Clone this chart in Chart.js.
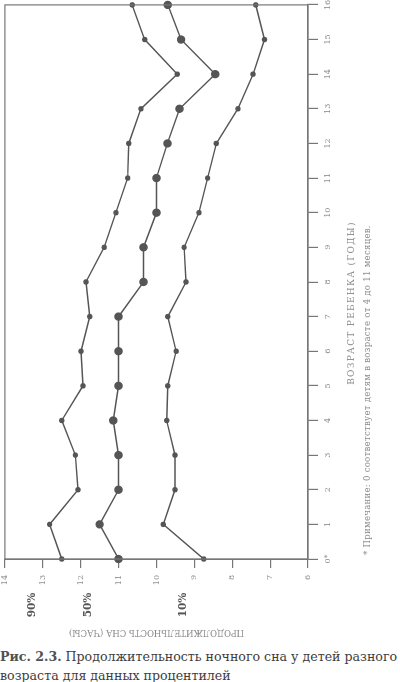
<!DOCTYPE html>
<html>
<head>
<meta charset="utf-8">
<script src="https://cdn.jsdelivr.net/npm/chart.js@4.4.1/dist/chart.umd.min.js"></script>
<style>
    body { margin: 0; background: #fff; }
    #page { position: relative; width: 400px; height: 682px; overflow: hidden; }
    #wrap {
        position: absolute; left: 0; top: 0; width: 645px; height: 400px;
        transform-origin: 0 0; transform: translateY(645px) rotate(-90deg);
    }
    #caption {
        position: absolute; left: 0; top: 647px; width: 420px;
        font-family: "DejaVu Serif", serif; font-size: 12.6px; line-height: 19px;
        color: #3d3d3d; white-space: nowrap;
    }
    #caption b { color: #505050; }
</style>
</head>
<body>
<div id="page">
    <div id="wrap"><canvas id="myChart" width="645" height="400"></canvas></div>
    <div id="caption"><b>Рис. 2.3.</b> Продолжительность ночного сна у детей разного<br>возраста для данных процентилей</div>
</div>
<script>
var ages = ['0*', '1', '2', '3', '4', '5', '6', '7', '8', '9', '10', '11', '12', '13', '14', '15', '16'];
var p90 = [12.5, 12.82, 12.07, 12.14, 12.5, 11.94, 11.99, 11.76, 11.86, 11.38, 11.07, 10.76, 10.73, 10.41, 9.45, 10.31, 10.64];
var p50 = [11.0, 11.5, 11.0, 11.0, 11.14, 11.0, 11.0, 11.0, 10.34, 10.34, 10.0, 10.0, 9.71, 9.39, 8.45, 9.35, 9.7];
var p10 = [8.75, 9.82, 9.51, 9.51, 9.73, 9.7, 9.48, 9.7, 9.22, 9.27, 8.88, 8.65, 8.42, 7.85, 7.45, 7.15, 7.38];
var pctNames = ['90%', '50%', '10%'];
var pctAt = [13.27, 11.79, 9.28];
var xTitle = 'ВОЗРАСТ РЕБЕНКА (ГОДЫ)';
var yTitle = 'ПРОДОЛЖИТЕЛЬНОСТЬ СНА (ЧАСЫ)';
var note = '* Примечание: 0 соответствует детям в возрасте от 4 до 11 месяцев.';

var lineColor = '#555';
var axisColor = '#777';
var textColor = '#8a8a8a';
var serif = '"DejaVu Serif", serif';

function series(values, r) {
    return {
        data: values,
        borderColor: lineColor,
        backgroundColor: lineColor,
        borderWidth: 1.4,
        pointRadius: r,
        pointHoverRadius: r,
        tension: 0,
        clip: false
    };
}

// рамка и подписи
const extras = {
    id: 'extras',
    afterDraw(chart) {
        const ctx = chart.ctx;
        const a = chart.chartArea;
        const y = chart.scales.y;
        ctx.save();
        ctx.strokeStyle = axisColor;
        ctx.lineWidth = 1.2;
        ctx.strokeRect(a.left, a.top, a.right - a.left, a.bottom - a.top);

        ctx.fillStyle = '#555';
        ctx.font = 'bold 10.5px ' + serif;
        ctx.textAlign = 'center';
        ctx.textBaseline = 'middle';
        for (var i = 0; i < pctNames.length; i++) {
            ctx.fillText(pctNames[i], 40, y.getPixelForValue(pctAt[i]));
        }

        ctx.fillStyle = textColor;
        ctx.font = '9px ' + serif;
        ctx.letterSpacing = '1.3px';
        ctx.fillText(xTitle, 342, a.bottom + 44);
        ctx.textAlign = 'left';
        ctx.font = '8.5px ' + serif;
        ctx.letterSpacing = '0.3px';
        ctx.fillText(note, a.left + 4, a.bottom + 60);
        ctx.restore();
    }
};

const config = {
    type: 'line',
    data: {
        labels: ages,
        datasets: [series(p90, 2), series(p50, 3.5), series(p10, 2)]
    },
    options: {
        responsive: false,
        animation: false,
        events: [],
        layout: { padding: { top: 3, right: 3, left: 0, bottom: 0 } },
        plugins: { legend: { display: false }, tooltip: { enabled: false } },
        scales: {
            x: {
                type: 'category',
                afterFit(scale) { scale.height = 92; scale.paddingLeft = 0; scale.paddingRight = 0; },
                border: { color: axisColor, width: 1.2 },
                grid: { drawOnChartArea: false, tickLength: 10, color: axisColor, lineWidth: 1.2 },
                ticks: { color: textColor, font: { family: serif, size: 8 }, padding: 5, maxRotation: 0, autoSkip: false }
            },
            y: {
                min: 6,
                max: 14,
                afterFit(scale) { scale.width = 86; scale.paddingTop = 0; scale.paddingBottom = 0; },
                border: { color: axisColor, width: 1.2 },
                grid: { drawOnChartArea: false, tickLength: 9, color: axisColor, lineWidth: 1.2 },
                ticks: { stepSize: 1, color: textColor, font: { family: serif, size: 8 }, padding: 7 },
                title: { display: true, text: yTitle, color: textColor, font: { family: serif, size: 8.5 }, padding: { top: 8, bottom: 0 } }
            }
        }
    },
    plugins: [extras]
};

var myChart = new Chart(document.getElementById('myChart'), config);
</script>
</body>
</html>
